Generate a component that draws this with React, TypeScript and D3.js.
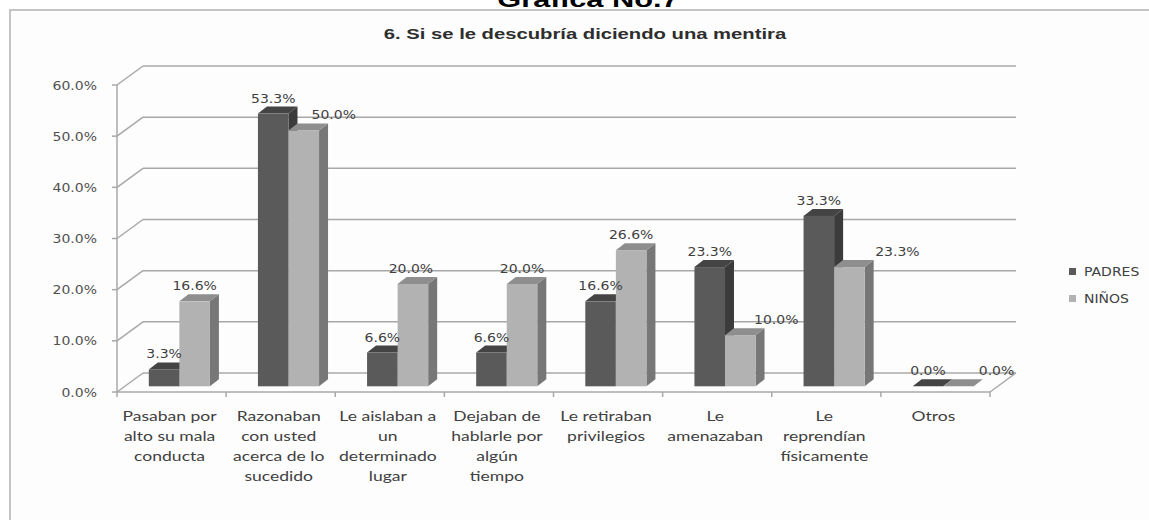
import React from "react";
import * as d3 from "d3";

const categories = [
  "Pasaban por\nalto su mala\nconducta",
  "Razonaban\ncon usted\nacerca de lo\nsucedido",
  "Le aislaban a\nun\ndeterminado\nlugar",
  "Dejaban de\nhablarle por\nalgún\ntiempo",
  "Le retiraban\nprivilegios",
  "Le\namenazaban",
  "Le\nreprendían\nfísicamente",
  "Otros",
];
const seriesNames = ["PADRES", "NIÑOS"];
const padres = [0.033, 0.533, 0.066, 0.066, 0.166, 0.233, 0.333, 0.0];
const ninos = [0.166, 0.5, 0.2, 0.2, 0.266, 0.1, 0.233, 0.0];
const yTicks = [0, 0.1, 0.2, 0.3, 0.4, 0.5, 0.6];
const chartTitle = "6. Si se le descubría diciendo una mentira";
const pageTitle = "Gráfica No.7";

// manual label nudges (px) for NIÑOS labels, as in the original
const ninosLabelShift = [0, 30, -2, 0, 0, 36, 48, 38];

const W = 1149;
const H = 520;
const FX0 = 117;
const FX1 = 990;
const DX = 26;
const DY = -19;
const BAR_F0 = 0.3;
const BAR_DX = 9;
const BAR_DY = -7;

const colors = {
  PADRES: { front: "#5a5a5a", side: "#3b3b3b", top: "#444444" },
  "NIÑOS": { front: "#b2b2b2", side: "#777777", top: "#8e8e8e" },
};

function pct(v: number) {
  return (v * 100).toFixed(1) + "%";
}

export default function App() {
  const x0 = d3.scaleBand<string>().domain(categories).range([FX0, FX1]).padding(0);
  const groupW = x0.bandwidth() * 0.56;
  const x1 = d3.scaleBand<string>().domain(seriesNames).range([0, groupW]).padding(0);
  const y = d3.scaleLinear().domain([0, 0.6]).range([392, 85]);

  const bdx = DX * BAR_F0;
  const bdy = DY * BAR_F0;

  const data = [padres, ninos];

  const bars: React.ReactNode[] = [];
  const labels: React.ReactNode[] = [];
  categories.forEach((c, ci) => {
    const gx = x0(c)! + (x0.bandwidth() - groupW) / 2 + bdx;
    seriesNames.forEach((s, si) => {
      const v = data[si][ci];
      const xl = gx + x1(s)!;
      const xr = xl + x1.bandwidth();
      const yb = y(0) + bdy;
      const yt = y(v) + bdy;
      const col = (colors as any)[s];
      bars.push(
        <g key={`b${ci}-${si}`}>
          <polygon
            points={`${xr},${yb} ${xr + BAR_DX},${yb + BAR_DY} ${xr + BAR_DX},${yt + BAR_DY} ${xr},${yt}`}
            fill={col.side}
          />
          <polygon
            points={`${xl},${yt} ${xr},${yt} ${xr + BAR_DX},${yt + BAR_DY} ${xl + BAR_DX},${yt + BAR_DY}`}
            fill={col.top}
          />
          <rect x={xl} y={yt} width={xr - xl} height={yb - yt} fill={col.front} />
        </g>
      );
      const shift = si === 1 ? ninosLabelShift[ci] : 0;
      labels.push(
        <text
          key={`l${ci}-${si}`}
          transform={`translate(${(xl + xr) / 2 + shift},${yt - 11}) scale(1.12,1)`}
          textAnchor="middle"
          fontFamily="DejaVu Sans"
          fontSize={12.5}
          fill="#404040"
        >
          {pct(v)}
        </text>
      );
    });
  });

  return (
    <svg
      width={W}
      height={H}
      style={{ position: "absolute", left: 0, top: 0, background: "#ffffff" }}
    >
      <text
        transform={`translate(588,7) scale(1.4,1)`}
        textAnchor="middle"
        fontFamily="Liberation Sans, Arial"
        fontWeight="bold"
        fontSize={22}
        fill="#000"
      >
        {pageTitle}
      </text>
      <rect x={10} y={10} width={W} height={H} fill="#fdfdfd" stroke="#c4c4c4" strokeWidth={2} />
      <text
        transform={`translate(585,39) scale(1.35,1)`}
        textAnchor="middle"
        fontFamily="Liberation Sans, Arial"
        fontWeight="bold"
        fontSize={15}
        fill="#2e2e2e"
      >
        {chartTitle}
      </text>

      {/* back wall gridlines and side wall diagonals */}
      {yTicks.map((t) => (
        <g key={`g${t}`}>
          <line x1={FX0 + DX} x2={FX1 + DX} y1={y(t) + DY} y2={y(t) + DY} stroke="#a8a8a8" strokeWidth={1.5} />
          <line x1={FX0} x2={FX0 + DX} y1={y(t)} y2={y(t) + DY} stroke="#a8a8a8" strokeWidth={1.5} />
          <line x1={FX0 - 5} x2={FX0} y1={y(t)} y2={y(t)} stroke="#a8a8a8" strokeWidth={1.5} />
          <text
            transform={`translate(97,${y(t) + 4.5}) scale(1.12,1)`}
            textAnchor="end"
            fontFamily="DejaVu Sans"
            fontSize={12.5}
            fill="#505050"
          >
            {pct(t)}
          </text>
        </g>
      ))}
      {/* y axis */}
      <line x1={FX0} x2={FX0} y1={y(0.6)} y2={y(0)} stroke="#a8a8a8" strokeWidth={1.5} />
      {/* floor */}
      <line x1={FX0} x2={FX1} y1={y(0)} y2={y(0)} stroke="#a8a8a8" strokeWidth={1.5} />
      <line x1={FX1} x2={FX1 + DX} y1={y(0)} y2={y(0) + DY} stroke="#a8a8a8" strokeWidth={1.5} />
      {categories.map((c, i) => (
        <line key={`t${i}`} x1={x0(c)!} x2={x0(c)!} y1={y(0)} y2={y(0) + 5} stroke="#a8a8a8" strokeWidth={1.5} />
      ))}
      <line x1={FX1} x2={FX1} y1={y(0)} y2={y(0) + 5} stroke="#a8a8a8" strokeWidth={1.5} />

      {bars}
      {labels}

      {/* category labels */}
      {categories.map((c) => {
        const cx = x0(c)! + x0.bandwidth() / 2 - 2;
        return (
          <g key={`c${c}`}>
            {c.split("\n").map((line, li) => (
              <text
                key={li}
                transform={`translate(${cx},${421 + li * 20}) scale(1.3,1)`}
                textAnchor="middle"
                fontFamily="Lato"
                fontSize={13.5}
                fill="#404040"
              >
                {line}
              </text>
            ))}
          </g>
        );
      })}

      {/* legend */}
      {seriesNames.map((s, i) => (
        <g key={`lg${s}`}>
          <rect x={1069} y={268 + i * 27} width={7} height={7} fill={(colors as any)[s].front} />
          <text
            transform={`translate(1084,${276 + i * 27}) scale(1.12,1)`}
            fontFamily="DejaVu Sans"
            fontSize={12.5}
            fill="#404040"
          >
            {s}
          </text>
        </g>
      ))}
    </svg>
  );
}
